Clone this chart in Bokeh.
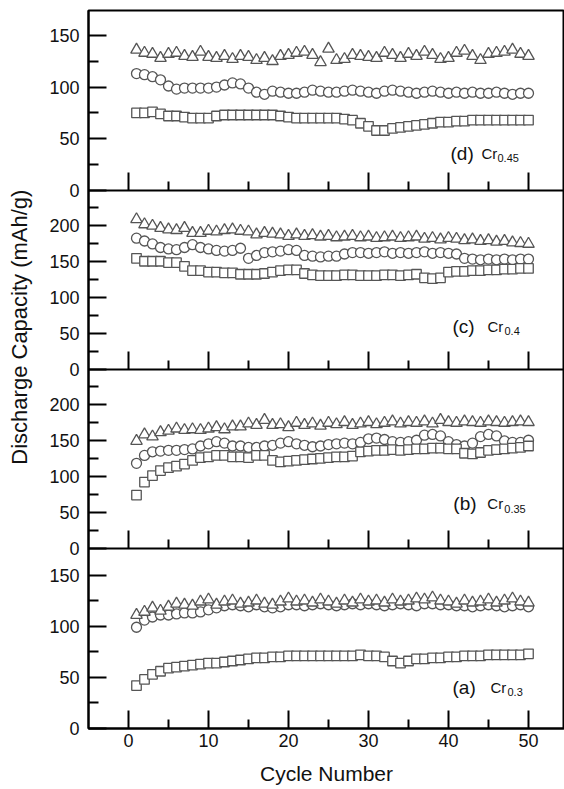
import math
from bokeh.plotting import figure
from bokeh.models import Range1d, FixedTicker, Label, LinearAxis
from bokeh.layouts import row
from bokeh.embed import file_html
from bokeh.resources import INLINE

# ---------------- data ----------------
cycles = list(range(1, 51))

x_ticks = [0, 10, 20, 30, 40, 50]
x_minor = [5, 15, 25, 35, 45]

# panel (d) Cr0.45
sq_d = [75, 75, 76, 74, 72, 72, 71, 70, 70, 70, 72, 73, 73, 73, 73, 73, 73, 73, 72, 71,
        70, 70, 70, 70, 70, 70, 69, 68, 65, 62, 58, 58, 60, 61, 62, 63, 64, 65, 66, 66,
        67, 67, 68, 68, 68, 68, 68, 68, 68, 68]
ci_d = [113, 112, 110, 107, 101, 98, 99, 99, 99, 99, 100, 102, 104, 103, 99, 95, 93, 96, 95, 94,
        94, 95, 97, 96, 95, 95, 96, 97, 96, 95, 94, 96, 97, 96, 95, 94, 95, 96, 95, 94,
        95, 94, 95, 94, 94, 95, 94, 93, 94, 94]
tr_d = [136, 133, 132, 128, 132, 133, 130, 129, 134, 129, 128, 130, 127, 130, 129, 126, 128, 125, 130, 131,
        133, 134, 131, 124, 137, 126, 127, 131, 130, 129, 128, 133, 131, 128, 132, 130, 134, 131, 127, 128,
        133, 135, 130, 126, 132, 133, 134, 136, 132, 130]

# panel (c) Cr0.4
sq_c = [154, 150, 150, 150, 148, 148, 143, 137, 137, 135, 135, 134, 134, 132, 132, 132, 133, 135, 137, 138,
        138, 133, 131, 130, 130, 130, 131, 131, 130, 130, 130, 131, 131, 130, 131, 132, 127, 126, 127, 135,
        136, 136, 137, 137, 138, 138, 139, 139, 140, 140]
ci_c = [182, 178, 174, 169, 167, 166, 169, 173, 169, 167, 165, 164, 165, 168, 154, 158, 162, 163, 164, 166,
        165, 158, 157, 156, 157, 157, 160, 162, 162, 161, 162, 163, 161, 162, 161, 162, 163, 161, 162, 161,
        160, 154, 153, 152, 153, 152, 153, 152, 153, 153]
tr_c = [208, 201, 199, 196, 194, 193, 196, 189, 189, 192, 191, 193, 194, 192, 191, 187, 189, 188, 187, 185,
        187, 185, 186, 184, 185, 183, 184, 185, 183, 184, 182, 183, 184, 182, 183, 184, 181, 182, 180, 182,
        181, 179, 180, 178, 179, 177, 178, 176, 175, 174]

# panel (b) Cr0.35
sq_b = [74, 92, 101, 108, 112, 114, 117, 122, 126, 127, 129, 129, 127, 127, 126, 129, 129, 122, 120, 121,
        122, 123, 124, 125, 126, 127, 127, 128, 134, 135, 136, 136, 137, 136, 137, 138, 138, 139, 139, 138,
        138, 132, 131, 133, 136, 137, 138, 139, 140, 142]
ci_b = [118, 129, 134, 135, 136, 136, 137, 138, 142, 145, 148, 146, 142, 142, 140, 140, 142, 143, 146, 148,
        145, 143, 141, 142, 144, 145, 146, 145, 147, 152, 153, 151, 148, 147, 148, 150, 157, 158, 156, 148,
        144, 142, 146, 155, 158, 156, 149, 147, 147, 150]
tr_b = [149, 158, 155, 161, 163, 166, 164, 165, 164, 166, 168, 165, 169, 169, 173, 171, 178, 171, 172, 168,
        174, 171, 173, 170, 174, 172, 175, 171, 173, 175, 172, 174, 176, 173, 175, 174, 176, 173, 178, 175,
        174, 176, 175, 174, 176, 175, 174, 175, 176, 175]

# panel (a) Cr0.3
sq_a = [42, 48, 53, 56, 59, 60, 61, 62, 63, 64, 64, 65, 66, 67, 68, 69, 69, 70, 70, 71,
        71, 71, 71, 71, 71, 71, 71, 71, 72, 71, 71, 70, 66, 64, 66, 68, 68, 69, 69, 70,
        70, 71, 71, 71, 72, 72, 72, 72, 72, 73]
ci_a = [99, 106, 109, 111, 111, 112, 113, 113, 114, 116, 118, 120, 121, 120, 119, 121, 119, 118, 119, 121,
        121, 120, 121, 122, 121, 120, 121, 122, 121, 122, 121, 120, 121, 122, 121, 120, 122, 122, 121, 121,
        120, 120, 119, 120, 121, 120, 119, 120, 121, 119]
tr_a = [111, 114, 118, 115, 119, 122, 121, 120, 124, 126, 121, 124, 125, 122, 123, 125, 122, 121, 124, 127,
        124, 125, 123, 126, 124, 122, 125, 123, 126, 124, 125, 123, 126, 124, 125, 127, 126, 128, 125, 124,
        122, 125, 123, 124, 126, 123, 125, 127, 124, 123]

panel_names = ["d", "c", "b", "a"]
panel_tags = ["(d)", "(c)", "(b)", "(a)"]
panel_subs = ["0.45", "0.4", "0.35", "0.3"]
y_majors = [[0, 50, 100, 150], [0, 50, 100, 150, 200], [0, 50, 100, 150, 200], [0, 50, 100, 150]]
y_minors = [[25, 75, 125], [25, 75, 125, 175, 225], [25, 75, 125, 175, 225], [25, 75, 125]]
y_max = [174, 248, 248, 176]
squares = [sq_d, sq_c, sq_b, sq_a]
circles = [ci_d, ci_c, ci_b, ci_a]
triangles = [tr_d, tr_c, tr_b, tr_a]

x_title = "Cycle Number"
y_title = "Discharge Capacity (mAh/g)"

# ---------------- styling / layout ----------------
FONT = "Liberation Sans"
INK = "#111111"
MARK = "#555555"
panel_px = [180, 179, 179, 180]          # pixel height of each stacked panel
FRAME_H = sum(panel_px)
TOP = 10
TOTAL_H = 788
LEFT_W = 38
tag_pos = [(40.25, 35.8), (40.5, 59.6), (40.6, 62.3), (40.5, 40.1)]
cr_off = [31, 35, 34, 38]
sub_off = [47, 52, 51, 55]


def style_axis(ax, tick_in, minor_in):
    ax.axis_line_color = "black"
    ax.axis_line_width = 2
    ax.major_tick_line_color = "black"
    ax.major_tick_line_width = 2
    ax.minor_tick_line_color = "black"
    ax.minor_tick_line_width = 2
    ax.major_tick_in = tick_in
    ax.major_tick_out = 0
    ax.minor_tick_in = minor_in
    ax.minor_tick_out = 0
    ax.major_label_text_font = FONT
    ax.major_label_text_font_size = "18px"
    ax.major_label_text_color = INK


# the default y range counts frame pixels from the bottom; each panel gets its own range
p = figure(frame_width=476, frame_height=FRAME_H,
           x_range=Range1d(-5, 54.5), y_range=Range1d(0, FRAME_H),
           x_axis_location=None, y_axis_location=None,
           output_backend="svg", toolbar_location=None,
           min_border_left=50, min_border_right=0, min_border_top=TOP,
           min_border_bottom=0,
           background_fill_color="white", border_fill_color="white",
           outline_line_color="black", outline_line_width=2)
p.grid.visible = False

major_pos, minor_pos, overrides = [], [], {}
above = 0
for i, name in enumerate(panel_names):
    upp = y_max[i] / panel_px[i]
    base = FRAME_H - above - panel_px[i]
    p.extra_y_ranges[name] = Range1d(-base * upp, y_max[i] + above * upp)
    for v in y_majors[i]:
        pos = base + v / upp
        major_pos.append(pos)
        overrides[pos] = str(v)
    for v in y_minors[i]:
        minor_pos.append(base + v / upp)
    above += panel_px[i]

ya = LinearAxis(ticker=FixedTicker(ticks=major_pos, minor_ticks=minor_pos))
style_axis(ya, 18, 10)
ya.major_label_standoff = 9
ya.major_label_overrides = overrides
p.add_layout(ya, "left")

for i, name in enumerate(panel_names):
    bottom = (i == 3)
    xa = LinearAxis(ticker=FixedTicker(ticks=x_ticks, minor_ticks=x_minor), y_range_name=name)
    style_axis(xa, 18, 9)
    if bottom:
        xa.major_label_standoff = 5
        xa.axis_label = x_title
        xa.axis_label_text_font = FONT
        xa.axis_label_text_font_size = "21px"
        xa.axis_label_text_font_style = "normal"
        xa.axis_label_text_color = INK
        xa.axis_label_standoff = 12
    else:
        xa.fixed_location = 0
        xa.major_label_overrides = {t: "" for t in x_ticks}
        xa.major_label_text_font_size = "1px"
        xa.major_label_standoff = 0
    p.add_layout(xa, "below")

    p.scatter(cycles, circles[i], marker="circle", size=10, line_color=MARK,
              line_width=1.3, fill_color="white", y_range_name=name)
    p.scatter(cycles, squares[i], marker="square", size=9.5, line_color=MARK,
              line_width=1.3, fill_color="white", y_range_name=name)
    p.scatter(cycles, triangles[i], marker="triangle", size=11.5, line_color=MARK,
              line_width=1.3, fill_color="white", y_range_name=name)

    tx, ty = tag_pos[i]
    p.add_layout(Label(x=tx, y=ty, y_range_name=name, text=panel_tags[i], text_align="left",
                       text_baseline="middle", text_font=FONT, text_font_size="19px",
                       text_color=INK))
    p.add_layout(Label(x=tx, y=ty, y_range_name=name, x_offset=cr_off[i], text="Cr",
                       text_align="left", text_baseline="middle", text_font=FONT,
                       text_font_size="15px", text_color=INK))
    p.add_layout(Label(x=tx, y=ty, y_range_name=name, x_offset=sub_off[i], y_offset=-5,
                       text=panel_subs[i], text_align="left", text_baseline="middle",
                       text_font=FONT, text_font_size="11px", text_color=INK))

lab = figure(width=LEFT_W, height=TOTAL_H, x_range=Range1d(0, LEFT_W), y_range=Range1d(0, TOTAL_H),
             x_axis_location=None, y_axis_location=None, min_border=0,
             outline_line_color=None, toolbar_location=None, output_backend="svg",
             background_fill_color="white", border_fill_color="white")
lab.grid.visible = False
lab.add_layout(Label(x=19, y=TOTAL_H - 347, text=y_title, angle=math.pi / 2,
                     text_align="center", text_baseline="middle", text_font=FONT,
                     text_font_size="22px", text_color=INK))

layout = row(lab, p, spacing=0)
open("out.html", "w").write(file_html(layout, INLINE))
